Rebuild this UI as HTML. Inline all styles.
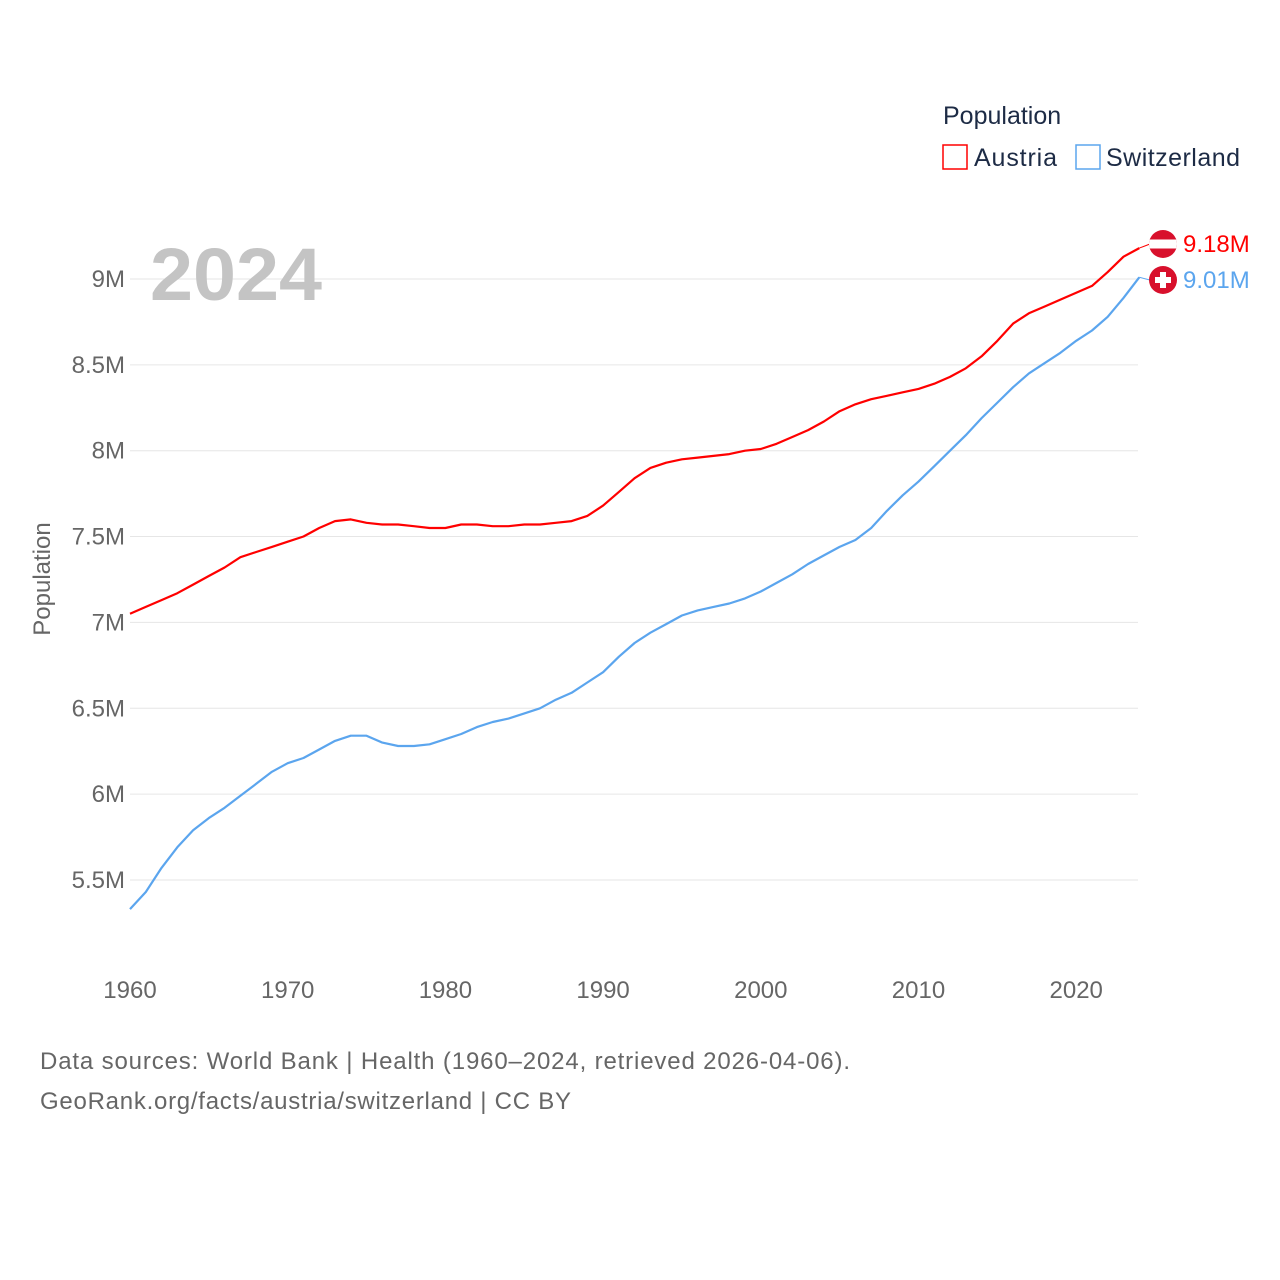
<!DOCTYPE html>
<html><head><meta charset="utf-8"><style>
html,body{margin:0;padding:0;background:#fff}
svg{display:block;font-family:"Liberation Sans",sans-serif}
</style></head><body>
<svg id="chart" width="1280" height="1280" viewBox="0 0 1280 1280">
<g id="grid"></g>
<g id="yticks"></g>
<g id="xticks"></g>
<text x="150" y="300" textLength="172" lengthAdjust="spacingAndGlyphs" font-size="74" font-weight="bold" fill="#c4c4c4">2024</text>
<text transform="translate(50,579) rotate(-90)" text-anchor="middle" font-size="24" fill="#666">Population</text>
<g id="series"></g>
<g>
<text x="943" y="124" font-size="25" fill="#1d2b45">Population</text>
<g><rect x="943" y="145" width="24" height="24" fill="none" stroke="#ff0000" stroke-width="1.5"/><text x="974" y="166" font-size="25" fill="#1d2b45" textLength="83">Austria</text></g>
<g><rect x="1076" y="145" width="24" height="24" fill="none" stroke="#5ba5ee" stroke-width="1.5"/><text x="1106" y="166" font-size="25" fill="#1d2b45" textLength="134">Switzerland</text></g>
</g>
<text x="40" y="1069" font-size="24" fill="#666" textLength="810">Data sources: World Bank | Health (1960–2024, retrieved 2026-04-06).</text>
<text x="40" y="1109" font-size="24" fill="#666" textLength="531">GeoRank.org/facts/austria/switzerland | CC BY</text>
</svg>
<script>
const years=[];for(let y=1960;y<=2024;y++)years.push(y);
const austria=[7.05,7.09,7.13,7.17,7.22,7.27,7.32,7.38,7.41,7.44,7.47,7.50,7.55,7.59,7.60,7.58,7.57,7.57,7.56,7.55,7.55,7.57,7.57,7.56,7.56,7.57,7.57,7.58,7.59,7.62,7.68,7.76,7.84,7.90,7.93,7.95,7.96,7.97,7.98,8.00,8.01,8.04,8.08,8.12,8.17,8.23,8.27,8.30,8.32,8.34,8.36,8.39,8.43,8.48,8.55,8.64,8.74,8.80,8.84,8.88,8.92,8.96,9.04,9.13,9.18];
const switzerland=[5.33,5.43,5.57,5.69,5.79,5.86,5.92,5.99,6.06,6.13,6.18,6.21,6.26,6.31,6.34,6.34,6.30,6.28,6.28,6.29,6.32,6.35,6.39,6.42,6.44,6.47,6.50,6.55,6.59,6.65,6.71,6.80,6.88,6.94,6.99,7.04,7.07,7.09,7.11,7.14,7.18,7.23,7.28,7.34,7.39,7.44,7.48,7.55,7.65,7.74,7.82,7.91,8.00,8.09,8.19,8.28,8.37,8.45,8.51,8.57,8.64,8.70,8.78,8.89,9.01];
const yTicks=[5.5,6,6.5,7,7.5,8,8.5,9];
const yTickLabels=["5.5M","6M","6.5M","7M","7.5M","8M","8.5M","9M"];
const xTicks=[1960,1970,1980,1990,2000,2010,2020];
const NS="http://www.w3.org/2000/svg";
const X=y=>130+(y-1960)*15.77;
const Y=v=>279+(9-v)*171.7;
function mk(tag,attrs,parent){const e=document.createElementNS(NS,tag);for(const k in attrs)e.setAttribute(k,attrs[k]);parent.appendChild(e);return e;}
const grid=document.getElementById('grid'),yt=document.getElementById('yticks'),xt=document.getElementById('xticks'),ser=document.getElementById('series');
yTicks.forEach((v,i)=>{
 const l=mk('line',{x1:130,x2:1138,y1:Y(v),y2:Y(v),stroke:'#e6e6e6','stroke-width':1},grid);
 
 
 const t=mk('text',{x:125,y:Y(v)+8,'text-anchor':'end','font-size':24,fill:'#666'},yt);
 t.textContent=yTickLabels[i];
 
 
});
xTicks.forEach(y=>{
 const t=mk('text',{x:X(y),y:998,'text-anchor':'middle','font-size':24,fill:'#666'},xt);
 t.textContent=y;
 
 
});
function series(vals,color,name,label,labelY){
 const d=vals.map((v,i)=>(i?'L':'M')+X(years[i]).toFixed(1)+','+Y(v).toFixed(1)).join('');
 const p=mk('path',{d:d,fill:'none',stroke:color,'stroke-width':2.2,'stroke-linejoin':'round'},ser);
 
 
 const last=vals[vals.length-1],ly=Y(last);
 mk('line',{x1:X(2024),x2:1150,y1:ly,y2:labelY,stroke:color,'stroke-width':1},ser);
 const t=mk('text',{x:1183,y:labelY+8,'font-size':24,fill:color},ser);
 t.textContent=label;
 
 
 return labelY;
}
const ay=series(austria,'#ff0000','austria','9.18M',244);
const sy=series(switzerland,'#5ba5ee','switzerland','9.01M',280);
const fa=mk('g',{},ser);


const cp=mk('clipPath',{id:'ca'},fa);
mk('circle',{cx:1163,cy:ay,r:14},cp);
const ga=mk('g',{'clip-path':'url(#ca)'},fa);
mk('rect',{x:1149,y:ay-14,width:28,height:28,fill:'#d8102c'},ga);
mk('rect',{x:1149,y:ay-4.5,width:28,height:9,fill:'#fff'},ga);
const fs=mk('g',{},ser);


mk('circle',{cx:1163,cy:sy,r:14,fill:'#d8102c'},fs);
mk('rect',{x:1160,y:sy-8,width:6,height:16,fill:'#fff'},fs);
mk('rect',{x:1155,y:sy-3,width:16,height:6,fill:'#fff'},fs);
</script>
</body></html>
